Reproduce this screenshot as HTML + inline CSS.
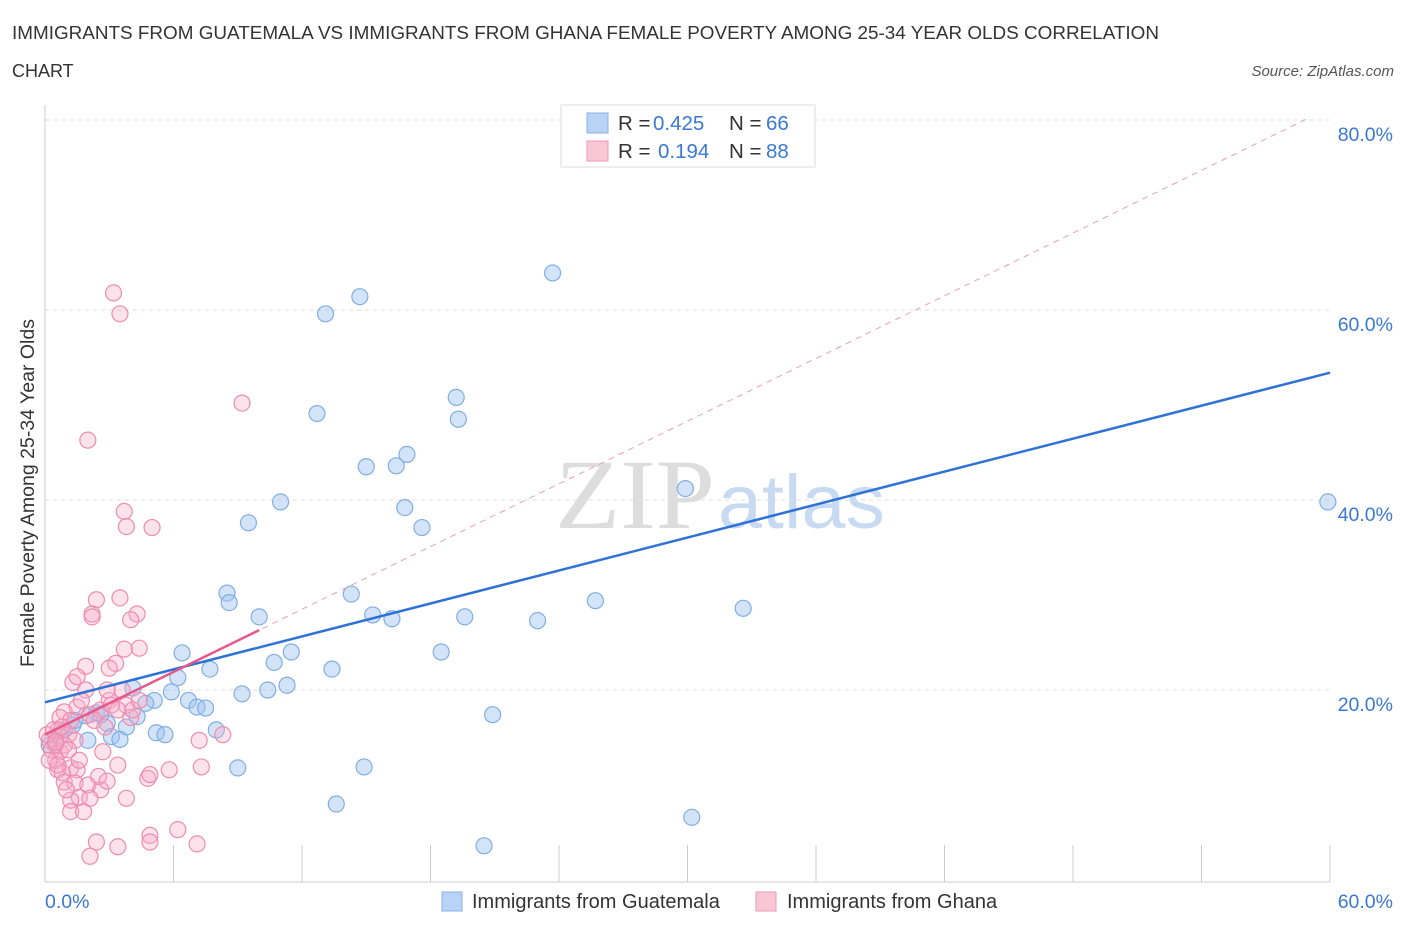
<!DOCTYPE html>
<html><head><meta charset="utf-8"><style>
body{margin:0;background:#fff;font-family:"Liberation Sans",sans-serif;}
svg{display:block}
</style></head><body>
<svg id="c" width="1406" height="930">
<text x="12" y="39" font-size="18" fill="#333" textLength="1147" lengthAdjust="spacingAndGlyphs">IMMIGRANTS FROM GUATEMALA VS IMMIGRANTS FROM GHANA FEMALE POVERTY AMONG 25-34 YEAR OLDS CORRELATION</text>
<text x="12" y="77" font-size="18" fill="#333">CHART</text>
<text x="1394" y="76" font-size="15" fill="#555" font-style="italic" text-anchor="end">Source: ZipAtlas.com</text>
<text x="555" y="528" font-size="100" fill="#ddd" font-family="Liberation Serif,serif" textLength="160" lengthAdjust="spacingAndGlyphs">ZIP</text>
<text x="718" y="528" font-size="76" fill="#c8daf2" textLength="167" lengthAdjust="spacingAndGlyphs">atlas</text>
<text x="34" y="493" font-size="19.5" fill="#333" text-anchor="middle" transform="rotate(-90 34 493)">Female Poverty Among 25-34 Year Olds</text>
<g id="grid"></g><g id="pts"></g><g id="lines"></g>
<g>
<rect x="561" y="105" width="254" height="62" fill="#fff" stroke="#ddd"/>
<rect x="587" y="113" width="21" height="20" fill="#b8d3f5" stroke="#8ab2e6"/>
<rect x="587" y="141" width="21" height="20" fill="#f9c6d6" stroke="#ee9ab6"/>
<text x="618" y="130" font-size="20.5" fill="#333">R = <tspan x="653" fill="#3a78d4">0.425</tspan><tspan x="729">N = </tspan><tspan x="766" fill="#3a78d4">66</tspan></text>
<text x="618" y="158" font-size="20.5" fill="#333">R = <tspan x="658" fill="#3a78d4">0.194</tspan><tspan x="729">N = </tspan><tspan x="766" fill="#3a78d4">88</tspan></text>
</g>
<g>
<rect x="442" y="892" width="20" height="19" fill="#b8d3f5" stroke="#8ab2e6"/>
<text x="472" y="908" font-size="20" fill="#333">Immigrants from Guatemala</text>
<rect x="756" y="892" width="20" height="19" fill="#f9c6d6" stroke="#ee9ab6"/>
<text x="787" y="908" font-size="20" fill="#333">Immigrants from Ghana</text>
</g>
</svg>
<script>
const blueX=[23.7,14.7,13.1,19.2,19.3,12.7,16.9,15.0,16.4,29.9,59.9,11.0,9.5,16.8,17.6,8.5,8.6,14.3,10.0,15.3,16.2,19.6,23.0,25.7,32.6,6.4,11.5,10.7,18.5,13.4,7.7,6.2,11.3,10.4,9.2,5.9,5.1,4.1,4.7,6.7,7.1,7.5,8.0,5.2,5.6,4.3,2.9,3.8,20.9,9.0,14.9,13.6,20.5,30.2,3.1,3.5,2.4,1.9,1.3,0.9,0.7,0.5,0.2,2.0,1.4,2.6];
const blueY=[63.9,61.4,59.6,50.8,48.5,49.1,44.8,43.5,43.6,41.2,39.8,39.8,37.6,39.2,37.1,30.2,29.2,30.1,27.7,27.9,27.5,27.7,27.3,29.4,28.6,23.9,24.0,22.9,24.0,22.2,22.2,21.3,20.5,20.0,19.6,19.8,18.9,20.2,18.6,18.9,18.2,18.1,15.8,15.5,15.3,17.2,16.5,16.1,17.4,11.8,11.9,8.0,3.6,6.6,15.1,14.8,17.6,17.3,16.3,15.8,15.1,14.7,14.2,14.7,16.8,17.4];
const pinkX=[3.2,3.5,9.2,2.0,3.7,3.8,5.0,2.4,3.5,2.2,2.2,4.3,4.0,4.4,3.7,1.9,3.3,3.0,1.3,1.5,3.6,3.0,2.6,3.8,1.5,0.9,0.7,1.2,2.1,2.3,2.8,4.0,0.6,1.1,1.4,0.2,0.5,0.3,0.7,0.9,1.1,0.5,0.6,0.8,1.2,1.5,0.9,1.4,2.0,2.6,1.6,1.2,2.1,2.7,3.4,2.5,2.9,4.8,4.9,5.8,3.8,7.3,7.2,8.3,1.2,1.8,2.4,3.4,2.1,4.9,4.9,6.2,7.1,2.9,3.1,3.4,4.1,1.9,1.7,4.4,0.2,0.1,0.4,0.8,0.6,1.6,1.0,0.5];
const pinkY=[61.8,59.6,50.2,46.3,38.8,37.2,37.1,29.5,29.7,28.0,27.7,28.0,27.4,24.4,24.3,22.5,22.8,22.3,20.8,21.4,20.0,18.9,17.9,18.4,18.2,17.7,17.1,16.8,17.4,16.8,16.1,17.1,15.8,15.3,14.7,14.7,14.2,13.7,13.5,14.2,13.7,12.6,11.6,11.3,11.8,11.6,10.3,10.2,10.0,9.5,8.7,8.4,8.6,13.5,12.1,10.9,10.4,10.7,11.1,11.6,8.6,11.9,14.7,15.3,7.2,7.2,4.0,3.5,2.5,4.7,4.0,5.3,3.8,20.0,18.4,17.9,17.9,20.0,18.9,18.9,12.6,15.3,15.8,16.1,12.1,12.6,9.5,14.5];
const yTicks=[20,40,60,80];
const blueFit=[18.7,53.4];
const pinkFit=[15.3,1.1];
const NS='http://www.w3.org/2000/svg';
const sx=v=>45+v*1285/60, sy=v=>880-v*9.5;
function mk(t,a,p){const e=document.createElementNS(NS,t);for(const k in a)e.setAttribute(k,a[k]);p.appendChild(e);return e;}
const g=document.getElementById('grid');
yTicks.forEach(t=>{
 const l=mk('line',{x1:45,x2:1330,y1:sy(t),y2:sy(t),stroke:'#ddd','stroke-dasharray':'4,4'},g);
 
 
 const tx=mk('text',{x:1393,y:sy(t)+21,'font-size':19.5,fill:'#3a78d4','text-anchor':'end'},g);
 tx.textContent=t.toFixed(1)+'%';
 
 
});
const ax=mk('line',{x1:45,x2:1330,y1:882,y2:882,stroke:'#ccc'},g);


const ay=mk('line',{x1:45,x2:45,y1:105,y2:882,stroke:'#ccc'},g);


for(let i=0;i<=10;i++){const x=sx(i*6);const tk=mk('line',{x1:x,x2:x,y1:845,y2:882,stroke:'#ccc'},g);
 
 }
[[0,'0.0%','start',45],[60,'60.0%','end',1393]].forEach(([v,s,a,x])=>{const t=mk('text',{x:x,y:908,'font-size':19.5,fill:'#3a78d4','text-anchor':a},g);t.textContent=s;
 
 });
const p=document.getElementById('pts');
blueX.forEach((x,i)=>{const c=mk('circle',{cx:sx(x),cy:sy(blueY[i]),r:8,fill:'rgba(160,196,240,0.45)',stroke:'#80aee4','stroke-width':1.2},p);
 
 });
pinkX.forEach((x,i)=>{const c=mk('circle',{cx:sx(x),cy:sy(pinkY[i]),r:8,fill:'rgba(246,172,198,0.35)',stroke:'#ee8cb0','stroke-width':1.2},p);
 
 });
const L=document.getElementById('lines');
const pd=mk('line',{x1:sx(0),y1:sy(pinkFit[0]),x2:sx(59),y2:sy(pinkFit[0]+59*pinkFit[1]),stroke:'#e8a0b8','stroke-dasharray':'6,5','stroke-width':1},L);


const bl=mk('line',{x1:sx(0),y1:sy(blueFit[0]),x2:sx(60),y2:sy(blueFit[1]),stroke:'#2f72d6','stroke-width':2.5},L);


const pl=mk('line',{x1:sx(0),y1:sy(pinkFit[0]),x2:sx(10),y2:sy(pinkFit[0]+10*pinkFit[1]),stroke:'#e8578a','stroke-width':2.5},L);


</script>
</body></html>
